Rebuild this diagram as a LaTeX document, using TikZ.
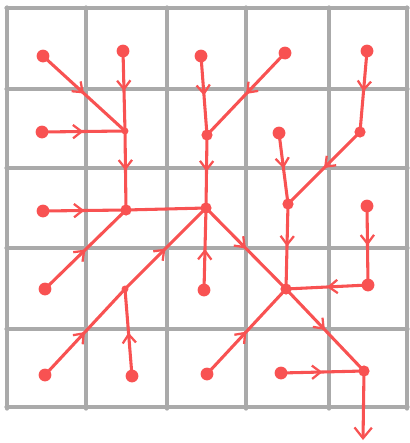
\documentclass[tikz,border=0pt]{standalone}
\usepackage{tikz}
\usetikzlibrary{arrows.meta, decorations.markings}
\definecolor{C0}{RGB}{248, 82, 82}
\definecolor{G0}{RGB}{170,170,170}

\begin{document}
\begin{tikzpicture}[x=0.75pt, y=-0.75pt,
    gridline/.style={G0, line width=2.4pt, line cap=round},
    link/.style={C0, line width=2.3pt, line cap=round},
    flow/.style={link, postaction={decorate, decoration={markings,
        mark=at position 0.5 with {\arrow{Straight Barb[length=6.5pt, width=10pt, line width=1.7pt]}}}}}]

    \useasboundingbox (0,0) rectangle (410,443);

    %% --- Hand drawn grid, 5 x 5 cells ---
    \foreach \x in {7, 86, 167, 246, 329, 407}
        \draw[gridline] (\x, 7) -- (\x, 409);
    \foreach \y in {8, 89, 168, 248, 329, 407}
        \draw[gridline] (6, \y) -- (408, \y);

    %% --- One point per cell (row, column) ---
    \coordinate (p11) at (43, 56);
    \coordinate (p12) at (123, 51);
    \coordinate (p13) at (201, 56);
    \coordinate (p14) at (285, 53);
    \coordinate (p15) at (367, 51);

    \coordinate (p21) at (42, 132);
    \coordinate (p22) at (125, 131);
    \coordinate (p23) at (207, 135);
    \coordinate (p24) at (279, 133);
    \coordinate (p25) at (360, 132);

    \coordinate (p31) at (43, 211);
    \coordinate (p32) at (126, 210);
    \coordinate (p33) at (206, 208);
    \coordinate (p34) at (288, 204);
    \coordinate (p35) at (367, 206);

    \coordinate (p41) at (45, 289);
    \coordinate (p42) at (125, 289);
    \coordinate (p43) at (204, 290);
    \coordinate (p44) at (286, 289);
    \coordinate (p45) at (368, 285);

    \coordinate (p51) at (45, 375);
    \coordinate (p52) at (132, 376);
    \coordinate (p53) at (207, 374);
    \coordinate (p54) at (281, 373);
    \coordinate (p55) at (364, 371);

    %% Outlet below the grid
    \coordinate (out) at (363, 440);

    %% --- Flow directions ---
    \draw[flow] (p11) -- (p22);
    \draw[flow] (p12) -- (p22);
    \draw[flow] (p13) -- (p23);
    \draw[flow] (p14) -- (p23);
    \draw[flow] (p15) -- (p25);

    \draw[flow] (p21) -- (p22);
    \draw[flow] (p22) -- (p32);
    \draw[flow] (p23) -- (p33);
    \draw[flow] (p24) -- (p34);
    \draw[flow] (p25) -- (p34);

    \draw[flow] (p31) -- (p32);
    \draw[link] (p32) -- (p33);
    \draw[flow] (p33) -- (p44);
    \draw[flow] (p34) -- (p44);
    \draw[flow] (p35) -- (p45);

    \draw[flow] (p41) -- (p32);
    \draw[flow] (p42) -- (p33);
    \draw[flow] (p43) -- (p33);
    \draw[flow] (p45) -- (p44);
    \draw[flow] (p44) -- (p55);

    \draw[flow] (p51) -- (p42);
    \draw[flow] (p52) -- (p42);
    \draw[flow] (p53) -- (p44);
    \draw[flow] (p54) -- (p55);
    \draw[link, -{Straight Barb[length=8pt, width=13pt, line width=1.7pt]}] (p55) -- (out);

    %% --- Dots: sources larger, junctions smaller ---
    \foreach \p in {p11, p12, p13, p14, p15, p21, p24, p31, p35,
                    p41, p43, p45, p51, p52, p53, p54}
        \fill[C0] (\p) circle (4.8pt);
    \foreach \p in {p22, p42}
        \fill[C0] (\p) circle (2.6pt);
    \foreach \p in {p23, p25, p32, p33, p34, p44, p55}
        \fill[C0] (\p) circle (4.2pt);

\end{tikzpicture}
\end{document}
